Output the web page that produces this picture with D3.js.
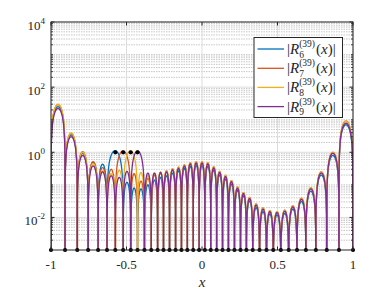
<!DOCTYPE html>
<html><head><meta charset="utf-8">
<script src="https://cdn.jsdelivr.net/npm/d3@7"></script>
<style>
body{margin:0;background:#fff}
svg{display:block}
text{font-family:"Liberation Serif","DejaVu Serif",serif;fill:#262626}
</style>
</head><body>
<svg id="chart" width="390" height="293"></svg>
<script>
// interpolation nodes (x-positions of the zeros)
const nodes = [-1, -0.907, -0.826, -0.754, -0.688, -0.629, -0.574, -0.522, -0.472, -0.427,
  -0.381, -0.336, -0.294, -0.255, -0.215, -0.175, -0.136, -0.097, -0.058, -0.019,
  0.019, 0.058, 0.097, 0.136, 0.175, 0.215, 0.255, 0.294, 0.336, 0.381,
  0.427, 0.472, 0.522, 0.574, 0.629, 0.688, 0.754, 0.826, 0.907, 1];

// peak height of each lobe (one per interval between nodes); the two intervals
// around the node where R_k = 1 form one merged lobe (same value twice)
const lobesR6 = [25, 3.4, 0.93, 0.50, 0.43, 1.12, 1.12, 0.12, 0.08, 0.075,
  0.10, 0.14, 0.17, 0.19, 0.23, 0.27, 0.32, 0.37, 0.40, 0.40,
  0.37, 0.28, 0.20, 0.15, 0.105, 0.067, 0.046, 0.032, 0.020, 0.015,
  0.0128, 0.0119, 0.0132, 0.018, 0.031, 0.064, 0.20, 0.80, 7.0];
const lobesR7 = [29, 3.8, 1.04, 0.51, 0.34, 0.30, 1.1, 1.1, 0.22, 0.13,
  0.16, 0.20, 0.24, 0.27, 0.31, 0.35, 0.41, 0.475, 0.51, 0.51,
  0.475, 0.36, 0.26, 0.195, 0.135, 0.085, 0.058, 0.041, 0.026, 0.0195,
  0.0162, 0.0151, 0.0167, 0.0227, 0.039, 0.081, 0.25, 1.0, 9.1];
const lobesR8 = [30, 3.9, 1.0, 0.45, 0.27, 0.22, 0.28, 1.1, 1.1, 0.24,
  0.19, 0.23, 0.25, 0.27, 0.31, 0.35, 0.41, 0.475, 0.51, 0.51,
  0.475, 0.36, 0.26, 0.195, 0.135, 0.085, 0.058, 0.041, 0.026, 0.0195,
  0.0162, 0.0151, 0.0167, 0.0227, 0.039, 0.081, 0.25, 1.0, 9.0];
const lobesR9 = [22, 3.0, 0.80, 0.38, 0.25, 0.19, 0.17, 0.26, 1.1, 1.1,
  0.23, 0.23, 0.24, 0.25, 0.29, 0.32, 0.38, 0.44, 0.47, 0.47,
  0.44, 0.33, 0.24, 0.18, 0.125, 0.079, 0.054, 0.038, 0.024, 0.018,
  0.015, 0.014, 0.0155, 0.021, 0.036, 0.075, 0.23, 0.93, 7.8];

const unitNodes = [6, 7, 8, 9];          // node index where each R_k equals 1
const unitValue = 1;
const seriesIndex = ["6", "7", "8", "9"];
const seriesColors = ["#0072BD", "#D95319", "#EDB120", "#7E2F8E"];
const xTicks = [-1, -0.5, 0, 0.5, 1];
const xTickLabels = ["-1", "-0.5", "0", "0.5", "1"];
const yTicks = [1e-2, 1e0, 1e2, 1e4];
const yTickExps = ["-2", "0", "2", "4"];
const yDomain = [1e-3, 1e4];
const floorValue = 1e-3;

const allLobes = [lobesR6, lobesR7, lobesR8, lobesR9];
const SERIF = "Liberation Serif, DejaVu Serif, serif";

const svg = d3.select("#chart");
const L = 51, R = 353, T = 22, B = 250;
const x = d3.scaleLinear().domain([-1, 1]).range([L, R]);
const y = d3.scaleLog().domain(yDomain).range([B, T]);

svg.append("rect").attr("width", 390).attr("height", 293).attr("fill", "#fff");

svg.append("defs").append("clipPath").attr("id", "clip")
  .append("rect").attr("x", L).attr("y", T).attr("width", R - L).attr("height", B - T);

// grid
const grid = svg.append("g");
const minorVals = [];
for (let k = -3; k < 4; k++) {
  for (let mm = 1; mm <= 9; mm++) {
    const v = mm * Math.pow(10, k);
    if (v <= yDomain[0] || v >= yDomain[1]) continue;
    if (mm === 1 && k % 2 === 0) continue;
    minorVals.push(v);
  }
}
grid.selectAll(".ymin").data(minorVals).enter().append("line")
  .attr("x1", L).attr("x2", R).attr("y1", d => y(d)).attr("y2", d => y(d))
  .attr("stroke", "#b0b0b0").attr("stroke-width", 0.7).attr("stroke-dasharray", "1.5,1");
grid.selectAll(".ymaj").data(yTicks).enter().append("line")
  .attr("x1", L).attr("x2", R).attr("y1", d => y(d)).attr("y2", d => y(d))
  .attr("stroke", "#d8d8d8").attr("stroke-width", 0.9);
grid.selectAll(".xmaj").data(xTicks).enter().append("line")
  .attr("x1", d => x(d)).attr("x2", d => x(d)).attr("y1", T).attr("y2", B)
  .attr("stroke", "#d8d8d8").attr("stroke-width", 0.9);

// curves
function lobePoints(a, b, peak) {
  const pts = [];
  const n = 60;
  for (let j = 0; j <= n; j++) {
    const t = j / n;
    const v = Math.max(peak * Math.sin(Math.PI * t), 1e-8);
    pts.push([a + (b - a) * t, v]);
  }
  return pts;
}
const line = d3.line().x(d => x(d[0])).y(d => y(d[1]));
const plot = svg.append("g").attr("clip-path", "url(#clip)");
allLobes.forEach((lobes, s) => {
  const k = unitNodes[s];
  let pts = [];
  for (let i = 0; i < lobes.length; i++) {
    if (i === k) continue;
    if (i === k - 1) {
      pts = pts.concat(lobePoints(nodes[i], nodes[i + 2], lobes[i]));
    } else {
      pts = pts.concat(lobePoints(nodes[i], nodes[i + 1], lobes[i]));
    }
  }
  plot.append("path").attr("d", line(pts)).attr("fill", "none")
    .attr("stroke", seriesColors[s]).attr("stroke-width", 1.3).attr("stroke-linejoin", "round");
});

// markers
svg.append("g").selectAll("circle").data(nodes).enter().append("circle")
  .attr("cx", d => x(d)).attr("cy", y(floorValue)).attr("r", 2.1).attr("fill", "#000");
svg.append("g").selectAll("circle").data(unitNodes).enter().append("circle")
  .attr("cx", d => x(nodes[d])).attr("cy", y(unitValue)).attr("r", 2.1).attr("fill", "#000");

// axes box
const ax = svg.append("g").attr("stroke", "#262626").attr("fill", "none");
ax.append("rect").attr("x", L).attr("y", T).attr("width", R - L).attr("height", B - T).attr("stroke-width", 1);
xTicks.forEach(v => {
  ax.append("line").attr("x1", x(v)).attr("x2", x(v)).attr("y1", B).attr("y2", B - 3.5);
  ax.append("line").attr("x1", x(v)).attr("x2", x(v)).attr("y1", T).attr("y2", T + 3.5);
});
yTicks.forEach(v => {
  ax.append("line").attr("x1", L).attr("x2", L + 3.5).attr("y1", y(v)).attr("y2", y(v));
  ax.append("line").attr("x1", R).attr("x2", R - 3.5).attr("y1", y(v)).attr("y2", y(v));
});
minorVals.forEach(v => {
  ax.append("line").attr("x1", L).attr("x2", L + 2).attr("y1", y(v)).attr("y2", y(v)).attr("stroke-width", 0.8);
  ax.append("line").attr("x1", R).attr("x2", R - 2).attr("y1", y(v)).attr("y2", y(v)).attr("stroke-width", 0.8);
});

// tick labels
svg.append("g").selectAll("text").data(xTicks).enter().append("text")
  .attr("font-family", SERIF)
  .attr("x", d => x(d)).attr("y", 268.5).attr("text-anchor", "middle")
  .attr("font-size", 13).text((d, i) => xTickLabels[i]);
yTicks.forEach((v, i) => {
  const t = svg.append("text").attr("font-family", SERIF).attr("x", 45).attr("y", y(v) + 8)
    .attr("text-anchor", "end").attr("font-size", 13);
  t.append("tspan").text("10");
  t.append("tspan").attr("dy", -6).attr("font-size", 9).text(yTickExps[i]);
});
svg.append("text").attr("font-family", SERIF).attr("x", x(0)).attr("y", 287).attr("text-anchor", "middle")
  .attr("font-size", 15).attr("font-style", "italic").text("x");

// legend: R with stacked superscript (39) and subscript k, drawn as one text
const lg = svg.append("g");
lg.append("rect").attr("x", 254).attr("y", 37.5).attr("width", 88.5).attr("height", 80)
  .attr("fill", "#fff").attr("stroke", "#262626").attr("stroke-width", 1);
const rowY = [49, 68.3, 87.4, 106.6];
seriesIndex.forEach((si, i) => {
  const cy = rowY[i];
  lg.append("line").attr("x1", 257.5).attr("x2", 284).attr("y1", cy).attr("y2", cy)
    .attr("stroke", seriesColors[i]).attr("stroke-width", 1.3);
  const x0 = 287, base = cy + 5;
  const t = lg.append("text").attr("font-family", SERIF).attr("x", x0).attr("y", base).attr("font-size", 15);
  t.append("tspan").text("|");
  t.append("tspan").attr("font-style", "italic").text("R");
  const sup = t.append("tspan").attr("dy", -7).attr("font-size", 9.5).text("(39)");
  // measure pieces to stack the subscript under the superscript
  const wAll = t.node().getComputedTextLength();
  const wSup = sup.node().getComputedTextLength();
  const subStart = x0 + wAll - wSup;
  t.append("tspan").attr("x", subStart).attr("dy", 10.5).attr("font-size", 9.5).text(si);
  const t2x = x0 + wAll + 1;
  t.append("tspan").attr("x", t2x).attr("dy", -3.5).text("(");
  t.append("tspan").attr("font-style", "italic").text("x");
  t.append("tspan").text(")|");
});
</script>
</body></html>
